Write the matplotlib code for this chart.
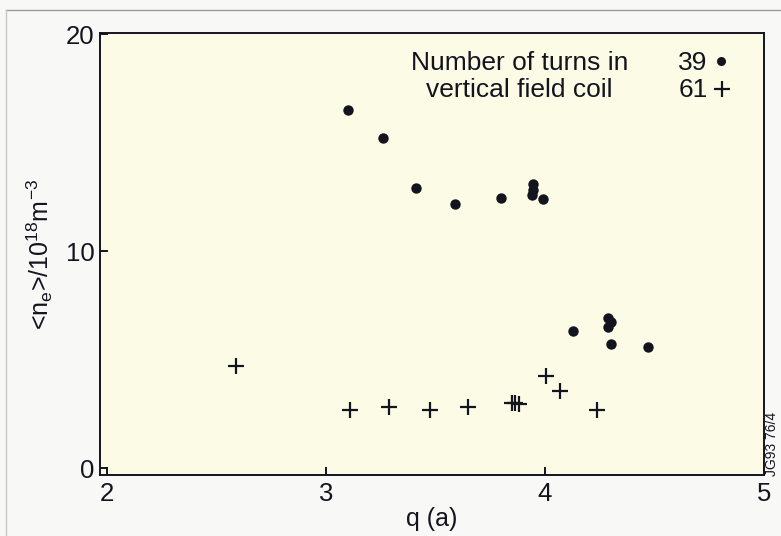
import matplotlib
matplotlib.use("Agg")
import matplotlib.pyplot as plt
from matplotlib.lines import Line2D

plt.rcParams['font.family'] = ['Liberation Sans', 'DejaVu Sans']
plt.rcParams['mathtext.default'] = 'regular'

# Coil with 39 turns (filled dots)
q_39 = [3.10, 3.26, 3.41, 3.59, 3.80, 3.945, 3.945, 3.94, 3.99,
        4.13, 4.29, 4.30, 4.29, 4.30, 4.47]
ne_39 = [16.5, 15.2, 12.9, 12.2, 12.45, 13.1, 12.8, 12.6, 12.4,
         6.35, 6.95, 6.75, 6.5, 5.75, 5.6]

# Coil with 61 turns (crosses)
q_61 = [2.59, 3.11, 3.29, 3.475, 3.65, 3.85, 3.865, 3.88, 4.005, 4.07, 4.24]
ne_61 = [4.7, 2.7, 2.85, 2.7, 2.85, 3.03, 3.0, 2.95, 4.28, 3.55, 2.67]

x_ticks = [2, 3, 4, 5]
y_ticks = [0, 10, 20]

ink = '#14141f'

fig = plt.figure(figsize=(7.81, 5.36), dpi=100, facecolor='#f8f8f7')
ax = fig.add_axes([0.128, 0.1138, 0.850, 0.8246])
ax.set_facecolor('#fcfce6')

ax.plot(q_39, ne_39, 'o', color=ink, markersize=7.5, markeredgewidth=0)
ax.plot(q_61, ne_61, '+', color=ink, markersize=11, markeredgewidth=1.6)

ax.set_xlim(1.968, 5.0)
ax.set_ylim(-0.3, 20.05)
ax.set_xticks(x_ticks)
ax.set_yticks(y_ticks)
ax.tick_params(direction='in', length=6, width=1.4, color=ink,
               labelsize=18.5, labelcolor=ink, pad=4)
ax.tick_params(axis='x', pad=5)
for s in ax.spines.values():
    s.set_linewidth(1.4)
    s.set_color(ink)

ax.set_xlabel('q (a)', fontsize=18, color=ink, labelpad=1)
ax.set_ylabel(r'<n$_{e}$>/10$^{18}$m$^{-3}$', fontsize=18, color=ink, labelpad=8)

# Legend block written as text
ax.text(0.632, 0.933, 'Number of turns in', transform=ax.transAxes,
        ha='center', va='center', fontsize=19, color=ink)
ax.text(0.632, 0.870, 'vertical field coil', transform=ax.transAxes,
        ha='center', va='center', fontsize=19, color=ink)
ax.text(0.915, 0.933, '39', transform=ax.transAxes,
        ha='right', va='center', fontsize=19, color=ink)
ax.text(0.915, 0.870, '61', transform=ax.transAxes,
        ha='right', va='center', fontsize=19, color=ink)
ax.add_line(Line2D([0.935], [0.937], transform=ax.transAxes, marker='o',
                   color=ink, markersize=6.5, markeredgewidth=0))
ax.add_line(Line2D([0.937], [0.873], transform=ax.transAxes, marker='+',
                   color=ink, markersize=11, markeredgewidth=1.6))

fig.text(0.989, 0.172, 'JG93 76/4', rotation=90, ha='center', va='center',
         fontsize=10, color=ink)

# Outer frame lines
fig.add_artist(Line2D([6 / 781, 1.0], [1 - 10 / 536, 1 - 10 / 536],
                      transform=fig.transFigure, color='#9a9a9a', lw=1.0))
fig.add_artist(Line2D([6 / 781, 6 / 781], [0.0, 1 - 10 / 536],
                      transform=fig.transFigure, color='#c8c8c8', lw=1.0))

fig.savefig('out.png', dpi=100, facecolor=fig.get_facecolor())
